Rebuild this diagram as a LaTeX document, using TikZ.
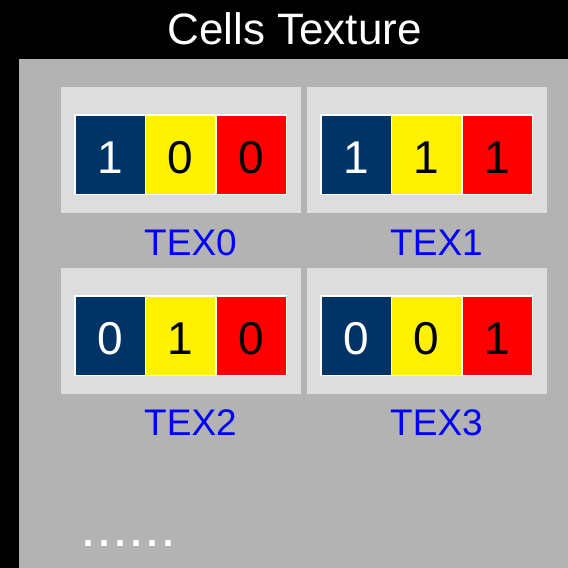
\documentclass[tikz,border=0pt]{standalone}
\usepackage{fontspec}
\setmainfont{Liberation Sans}
\definecolor{bggray}{HTML}{B3B3B3}
\definecolor{panelgray}{HTML}{DDDDDD}
\definecolor{cellblue}{HTML}{003366}
\definecolor{labblue}{HTML}{0000FF}
\tikzset{
  panel/.style={fill=panelgray, draw=none, minimum width=240pt, minimum height=126pt, inner sep=0pt, anchor=north west},
  strip/.style={fill=white, draw=none, minimum width=213pt, minimum height=81pt, inner sep=0pt, anchor=north west},
  cell/.style={fill=#1, draw=none, minimum width=69pt, minimum height=78pt, inner sep=0pt, anchor=north west},
  digit/.style={text=#1, font=\fontsize{46}{50}\selectfont, inner sep=0pt, anchor=base},
  lab/.style={text=labblue, font=\fontsize{37}{41}\selectfont, inner sep=0pt, anchor=base},
}
\begin{document}
\begin{tikzpicture}[x=1pt,y=-1pt]
\useasboundingbox (0,0) rectangle (568,568);
\fill[black] (0,0) rectangle (568,568);
\fill[bggray] (19,59) rectangle (568,568);
\node[text=white, font=\fontsize{44}{48}\selectfont, inner sep=0pt, anchor=base] (title) at (294.5,44.5) {Cells Texture};
\foreach \k/\px/\py/\a/\b/\c/\ly in {0/61/87/1/0/0/168, 1/307/87/1/1/1/168, 2/61/268/0/1/0/167.5, 3/307/268/0/0/1/167.5}{
  \node[panel] (p\k) at (\px,\py) {};
  \node[strip] (s\k) at (\px+13,\py+27) {};
  \node[cell=cellblue] (c\k a) at (\px+14.5,\py+28.5) {};
  \node[cell=yellow] (c\k b) at (\px+85,\py+28.5) {};
  \node[cell=red] (c\k c) at (\px+155.5,\py+28.5) {};
  \node[digit=white] (d\k a) at (\px+49,\py+86) {\a};
  \node[digit=black] (d\k b) at (\px+119.5,\py+86) {\b};
  \node[digit=black] (d\k c) at (\px+190,\py+86) {\c};
  \node[lab] (l\k) at (\px+129.5,\py+\ly) {TEX\k};
}
\node[text=white, font=\fontsize{57.5}{60}\selectfont, inner sep=0pt, anchor=base] (dots) at (128.7,546.7) {......};
\end{tikzpicture}
\end{document}
